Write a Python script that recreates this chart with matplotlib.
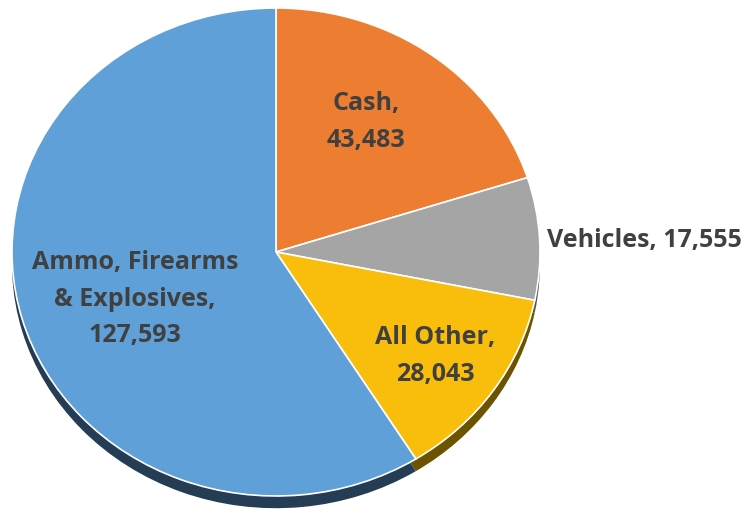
import matplotlib.pyplot as plt

labels = ['Cash', 'Vehicles', 'All Other', 'Ammo, Firearms\n& Explosives']
values = [43483, 17555, 28043, 127593]

TOP_COLORS = ['#ED7D31', '#A5A5A5', '#F9BE0C', '#5FA0D8']
SIDE_COLORS = ['#7A3E14', '#555555', '#6B5300', '#243D55']
TEXT_COLOR = '#404040'

# pie centre in pixels and the ellipse radii (tilted look)
W, H = 753, 515
CX, CY = 276, 252
RX, RY = 264, 244
DEPTH = 0.05

fig = plt.figure(figsize=(W / 100, H / 100), dpi=100)
ax = fig.add_axes([0, 0, 1, 1])

# side wall: a darker copy pushed down
ax.pie(values, startangle=90, counterclock=False, colors=SIDE_COLORS,
       center=(0, -DEPTH), radius=1,
       wedgeprops=dict(linewidth=0))

wedges, _ = ax.pie(values, startangle=90, counterclock=False,
                   colors=TOP_COLORS, center=(0, 0), radius=1,
                   wedgeprops=dict(edgecolor='white', linewidth=1.2))

ax.set_aspect('auto')
ax.set_xlim(-CX / RX, (W - CX) / RX)
ax.set_ylim(-(H - CY) / RY, CY / RY)
ax.axis('off')

# label anchor points in pixels
label_px = [(366, 122), (644, 240), (435, 356), (135, 299)]

for lab, val, (px, py) in zip(labels, values, label_px):
    sep = ' ' if lab == 'Vehicles' else '\n'
    ax.text((px - CX) / RX, (CY - py) / RY, f'{lab},{sep}{val:,}',
            ha='center', va='center', fontsize=18, fontweight='bold',
            color=TEXT_COLOR, family='Open Sans', linespacing=1.6)

fig.savefig('out.png', dpi=100)
